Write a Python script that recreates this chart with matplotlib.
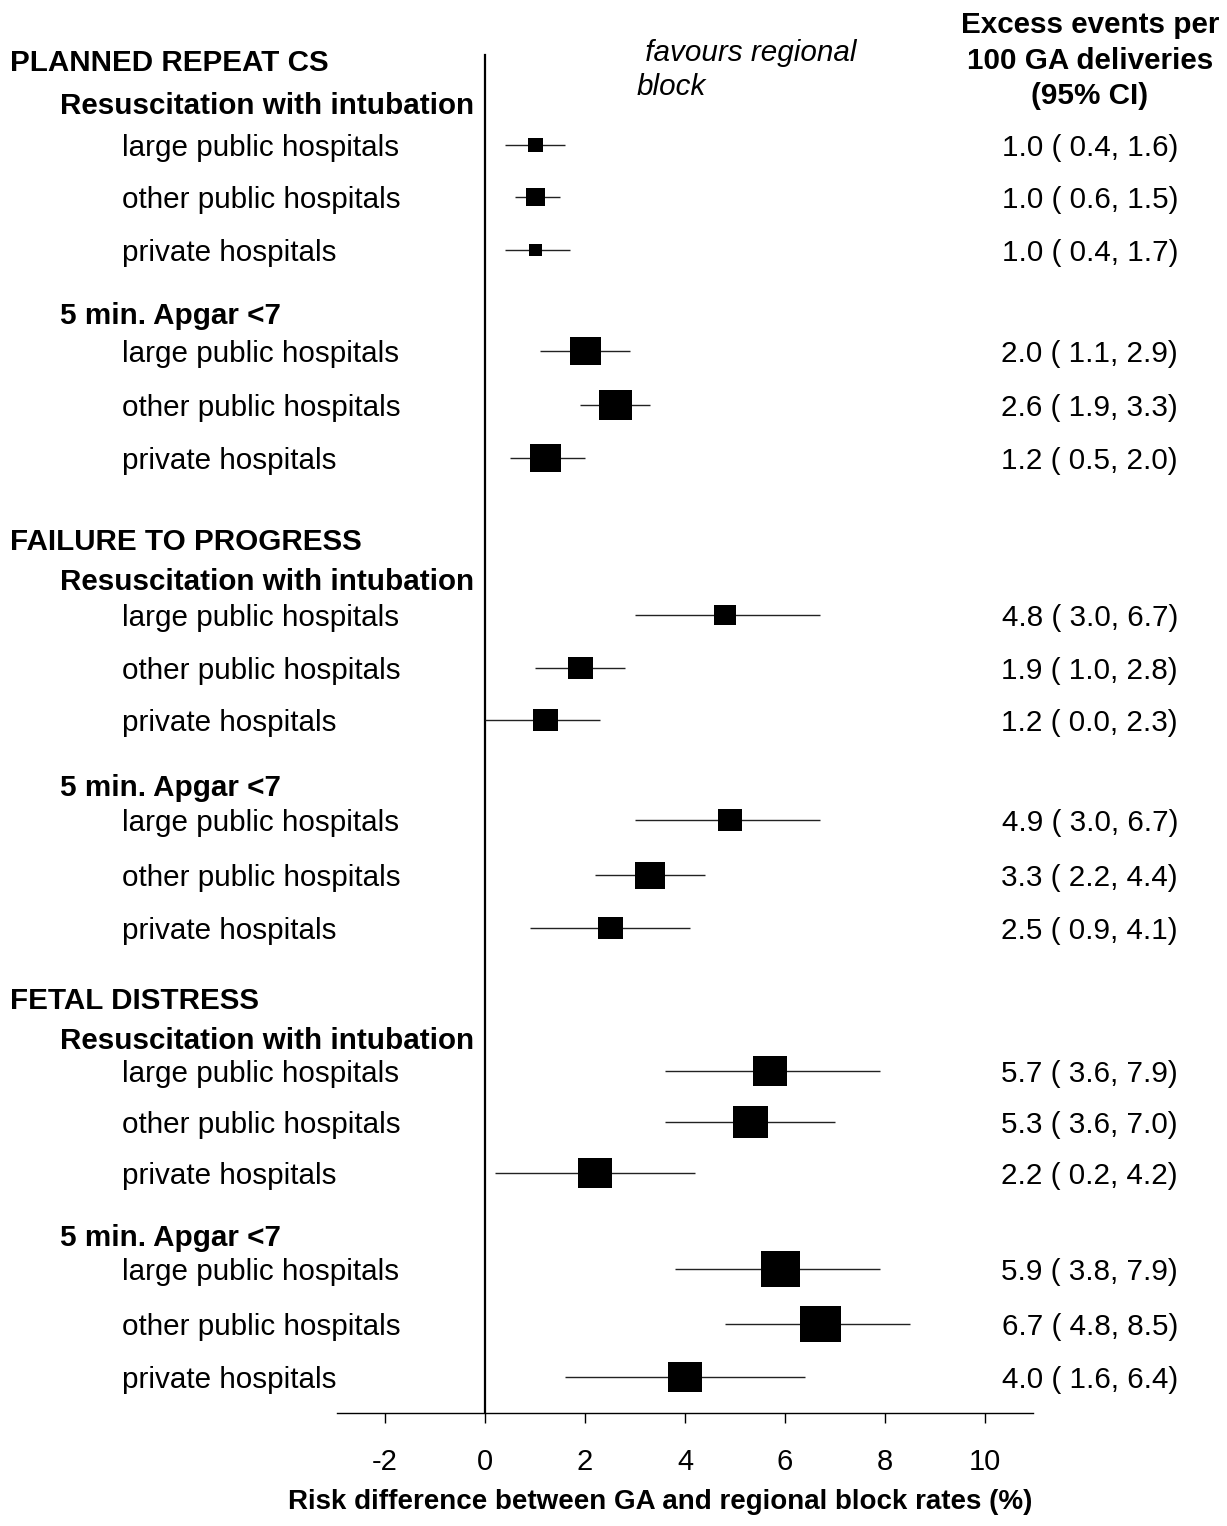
import matplotlib
matplotlib.use("Agg")
import matplotlib.pyplot as plt
import matplotlib.transforms as mtransforms

plt.rcParams["font.family"] = ["Liberation Sans", "DejaVu Sans"]

# indications, outcomes and hospital groups
indications = ["PLANNED REPEAT CS", "FAILURE TO PROGRESS", "FETAL DISTRESS"]
outcomes = ["Resuscitation with intubation", "5 min. Apgar <7"]
hospitals = ["large public hospitals", "other public hospitals", "private hospitals"]

# excess events per 100 GA deliveries (95% CI), in display order
est = [1.0, 1.0, 1.0, 2.0, 2.6, 1.2,
       4.8, 1.9, 1.2, 4.9, 3.3, 2.5,
       5.7, 5.3, 2.2, 5.9, 6.7, 4.0]
lo = [0.4, 0.6, 0.4, 1.1, 1.9, 0.5,
      3.0, 1.0, 0.0, 3.0, 2.2, 0.9,
      3.6, 3.6, 0.2, 3.8, 4.8, 1.6]
hi = [1.6, 1.5, 1.7, 2.9, 3.3, 2.0,
      6.7, 2.8, 2.3, 6.7, 4.4, 4.1,
      7.9, 7.0, 4.2, 7.9, 8.5, 6.4]
# relative box weights
weight = [15, 19, 13, 31, 33, 31,
          22, 25, 25, 24, 30, 25,
          34, 35, 34, 39, 41, 34]

xticks = [-2, 0, 2, 4, 6, 8, 10]

# layout: vertical place (pixels from top) of each text line, top to bottom
line_y = [60, 103, 145, 197, 250, 313, 351, 405, 458,
          539, 579, 615, 668, 720, 785, 820, 875, 928,
          998, 1038, 1071, 1122, 1173, 1235, 1269, 1324, 1377]

W, H = 1227, 1526
fig = plt.figure(figsize=(W / 100, H / 100), dpi=100)
axis_y = 1413
ax = fig.add_axes([337 / W, (H - axis_y) / H, 696 / W, axis_y / H])
ax.set_xlim(-2.96, 10.96)
ax.set_ylim(axis_y, 0)
for s in ["left", "right", "top"]:
  ax.spines[s].set_visible(False)
ax.spines["bottom"].set_linewidth(1.0)
ax.set_yticks([])
ax.set_xticks(xticks)
ax.set_xticklabels([str(t) for t in xticks], fontsize=21)
ax.tick_params(axis="x", length=7, width=1.0, pad=18)
ax.set_xlabel("Risk difference between GA and regional block rates (%)",
              fontsize=20, fontweight="bold")
ax.xaxis.set_label_coords((660 - 337) / 696, -(1502 - axis_y) / axis_y)
ax.xaxis.label.set_va("center")
ax.axvline(0, ymin=0, ymax=1 - 55 / axis_y, color="black", lw=1.6)

tr = mtransforms.blended_transform_factory(fig.transFigure, ax.transData)
FS = 21.3

box = [(-1, -0.9), (1, -0.9), (1, 0.9), (-1, 0.9), (-1, -0.9)]
n = 0
i = 0
for ind in indications:
  ax.text(10 / W, line_y[n], ind, transform=tr, fontsize=FS,
          fontweight="bold", ha="left", va="center_baseline")
  n += 1
  for out in outcomes:
    ax.text(60 / W, line_y[n], out, transform=tr, fontsize=FS,
            fontweight="bold", ha="left", va="center_baseline")
    n += 1
    for hosp in hospitals:
      y = line_y[n]
      ax.text(122 / W, y, hosp, transform=tr, fontsize=FS,
              ha="left", va="center_baseline")
      ax.plot([lo[i], hi[i]], [y, y], color="#222222", lw=1.0,
              solid_capstyle="butt")
      ax.plot(est[i], y, marker=box, color="black",
              markersize=weight[i] * 0.72, markeredgewidth=0)
      ax.text(1178 / W, y, "%.1f ( %.1f, %.1f)" % (est[i], lo[i], hi[i]),
              transform=tr, fontsize=FS, ha="right", va="center_baseline")
      n += 1
      i += 1

# column header and direction note
for txt, yy in zip(["Excess events per", "100 GA deliveries", "(95% CI)"],
                   [22, 58, 93]):
  fig.text(1090 / W, 1 - yy / H, txt, fontsize=FS, fontweight="bold",
           ha="center", va="center_baseline")
fig.text(637 / W, 1 - 50 / H, " favours regional", fontsize=FS,
         style="italic", ha="left", va="center_baseline")
fig.text(637 / W, 1 - 84 / H, "block", fontsize=FS,
         style="italic", ha="left", va="center_baseline")

fig.savefig("out.png", dpi=100)
